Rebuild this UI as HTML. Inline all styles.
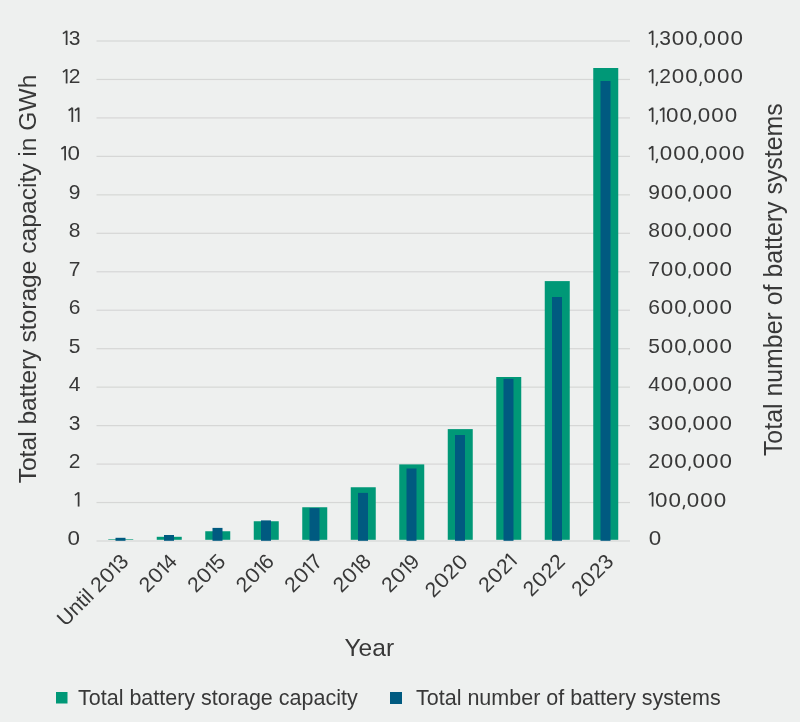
<!DOCTYPE html>
<html><head><meta charset="utf-8"><style>
html,body{margin:0;padding:0;background:#eef0ef;}
svg{display:block;will-change:transform;}
text{font-family:"Liberation Sans", sans-serif;fill:#383838;}
.f{fill:#383838;}
.s{stroke:#383838;fill:none;stroke-linecap:butt;}
.tk{font-size:21px;}
.xl{font-size:21px;}
.tt{font-size:24.6px;}
.rtt{font-size:24.9px;}
.lg{font-size:21.5px;}
</style></head><body>
<svg width="800" height="722" viewBox="0 0 800 722">
<rect width="800" height="722" fill="#eef0ef"/>
<rect x="96.5" y="540.40" width="533.5" height="1.2" fill="#d6d7d6"/>
<rect x="96.5" y="501.94" width="533.5" height="1.2" fill="#d6d7d6"/>
<rect x="96.5" y="463.48" width="533.5" height="1.2" fill="#d6d7d6"/>
<rect x="96.5" y="425.02" width="533.5" height="1.2" fill="#d6d7d6"/>
<rect x="96.5" y="386.55" width="533.5" height="1.2" fill="#d6d7d6"/>
<rect x="96.5" y="348.09" width="533.5" height="1.2" fill="#d6d7d6"/>
<rect x="96.5" y="309.63" width="533.5" height="1.2" fill="#d6d7d6"/>
<rect x="96.5" y="271.17" width="533.5" height="1.2" fill="#d6d7d6"/>
<rect x="96.5" y="232.71" width="533.5" height="1.2" fill="#d6d7d6"/>
<rect x="96.5" y="194.25" width="533.5" height="1.2" fill="#d6d7d6"/>
<rect x="96.5" y="155.78" width="533.5" height="1.2" fill="#d6d7d6"/>
<rect x="96.5" y="117.32" width="533.5" height="1.2" fill="#d6d7d6"/>
<rect x="96.5" y="78.86" width="533.5" height="1.2" fill="#d6d7d6"/>
<rect x="96.5" y="40.40" width="533.5" height="1.2" fill="#d6d7d6"/>
<rect x="108.25" y="539.2" width="25" height="0.60" fill="#009877"/>
<rect x="156.75" y="536.8" width="25" height="3.00" fill="#009877"/>
<rect x="205.25" y="531.25" width="25" height="8.55" fill="#009877"/>
<rect x="253.75" y="521.25" width="25" height="18.55" fill="#009877"/>
<rect x="302.25" y="507.25" width="25" height="32.55" fill="#009877"/>
<rect x="350.75" y="487.25" width="25" height="52.55" fill="#009877"/>
<rect x="399.25" y="464.4" width="25" height="75.40" fill="#009877"/>
<rect x="447.75" y="429.1" width="25" height="110.70" fill="#009877"/>
<rect x="496.25" y="377" width="25" height="162.80" fill="#009877"/>
<rect x="544.75" y="281.1" width="25" height="258.70" fill="#009877"/>
<rect x="593.25" y="68" width="25" height="471.80" fill="#009877"/>
<rect x="115.50" y="537.8" width="10" height="3.00" fill="#005a80"/>
<rect x="164.00" y="535" width="10" height="5.80" fill="#005a80"/>
<rect x="212.50" y="527.9" width="10" height="12.90" fill="#005a80"/>
<rect x="261.00" y="520.4" width="10" height="20.40" fill="#005a80"/>
<rect x="309.50" y="508.1" width="10" height="32.70" fill="#005a80"/>
<rect x="358.00" y="492.9" width="10" height="47.90" fill="#005a80"/>
<rect x="406.50" y="468.5" width="10" height="72.30" fill="#005a80"/>
<rect x="455.00" y="435" width="10" height="105.80" fill="#005a80"/>
<rect x="503.50" y="378.9" width="10" height="161.90" fill="#005a80"/>
<rect x="552.00" y="297" width="10" height="243.80" fill="#005a80"/>
<rect x="600.50" y="81" width="10" height="459.80" fill="#005a80"/>
<text transform="translate(73.75,545.00) scale(1.066,1)" text-anchor="middle" class="tk">0</text>
<rect x="77.73" y="492.24" width="1.75" height="14.30" class="f"/>
<path d="M78.60,492.64 L74.90,495.14" stroke-width="1.60" class="s"/>
<text x="74.50" y="468.08" text-anchor="middle" class="tk">2</text>
<text x="74.50" y="429.62" text-anchor="middle" class="tk">3</text>
<text x="74.50" y="391.15" text-anchor="middle" class="tk">4</text>
<text x="74.50" y="352.69" text-anchor="middle" class="tk">5</text>
<text x="74.50" y="314.23" text-anchor="middle" class="tk">6</text>
<text x="74.50" y="275.77" text-anchor="middle" class="tk">7</text>
<text x="74.50" y="237.31" text-anchor="middle" class="tk">8</text>
<text x="74.50" y="198.85" text-anchor="middle" class="tk">9</text>
<rect x="64.23" y="146.08" width="1.75" height="14.30" class="f"/>
<path d="M65.10,146.48 L61.40,148.98" stroke-width="1.60" class="s"/>
<text transform="translate(73.75,160.38) scale(1.066,1)" text-anchor="middle" class="tk">0</text>
<rect x="71.43" y="107.62" width="1.75" height="14.30" class="f"/>
<path d="M72.30,108.02 L68.60,110.52" stroke-width="1.60" class="s"/>
<rect x="77.73" y="107.62" width="1.75" height="14.30" class="f"/>
<path d="M78.60,108.02 L74.90,110.52" stroke-width="1.60" class="s"/>
<rect x="65.73" y="69.16" width="1.75" height="14.30" class="f"/>
<path d="M66.60,69.56 L62.90,72.06" stroke-width="1.60" class="s"/>
<text x="74.50" y="83.46" text-anchor="middle" class="tk">2</text>
<rect x="65.73" y="30.70" width="1.75" height="14.30" class="f"/>
<path d="M66.60,31.10 L62.90,33.60" stroke-width="1.60" class="s"/>
<text x="74.50" y="45.00" text-anchor="middle" class="tk">3</text>
<text transform="translate(654.95,545.00) scale(1.066,1)" text-anchor="middle" class="tk">0</text>
<rect x="651.73" y="492.24" width="1.75" height="14.30" class="f"/>
<path d="M652.60,492.64 L648.90,495.14" stroke-width="1.60" class="s"/>
<text transform="translate(661.25,506.54) scale(1.066,1)" text-anchor="middle" class="tk">0</text>
<text transform="translate(674.75,506.54) scale(1.066,1)" text-anchor="middle" class="tk">0</text>
<path d="M684.50,504.94 L683.20,509.14" stroke-width="1.60" class="s"/>
<text transform="translate(692.95,506.54) scale(1.066,1)" text-anchor="middle" class="tk">0</text>
<text transform="translate(706.45,506.54) scale(1.066,1)" text-anchor="middle" class="tk">0</text>
<text transform="translate(719.95,506.54) scale(1.066,1)" text-anchor="middle" class="tk">0</text>
<text x="654.20" y="468.08" text-anchor="middle" class="tk">2</text>
<text transform="translate(666.95,468.08) scale(1.066,1)" text-anchor="middle" class="tk">0</text>
<text transform="translate(680.45,468.08) scale(1.066,1)" text-anchor="middle" class="tk">0</text>
<path d="M690.20,466.48 L688.90,470.68" stroke-width="1.60" class="s"/>
<text transform="translate(698.65,468.08) scale(1.066,1)" text-anchor="middle" class="tk">0</text>
<text transform="translate(712.15,468.08) scale(1.066,1)" text-anchor="middle" class="tk">0</text>
<text transform="translate(725.65,468.08) scale(1.066,1)" text-anchor="middle" class="tk">0</text>
<text x="654.20" y="429.62" text-anchor="middle" class="tk">3</text>
<text transform="translate(666.95,429.62) scale(1.066,1)" text-anchor="middle" class="tk">0</text>
<text transform="translate(680.45,429.62) scale(1.066,1)" text-anchor="middle" class="tk">0</text>
<path d="M690.20,428.02 L688.90,432.22" stroke-width="1.60" class="s"/>
<text transform="translate(698.65,429.62) scale(1.066,1)" text-anchor="middle" class="tk">0</text>
<text transform="translate(712.15,429.62) scale(1.066,1)" text-anchor="middle" class="tk">0</text>
<text transform="translate(725.65,429.62) scale(1.066,1)" text-anchor="middle" class="tk">0</text>
<text x="654.20" y="391.15" text-anchor="middle" class="tk">4</text>
<text transform="translate(666.95,391.15) scale(1.066,1)" text-anchor="middle" class="tk">0</text>
<text transform="translate(680.45,391.15) scale(1.066,1)" text-anchor="middle" class="tk">0</text>
<path d="M690.20,389.55 L688.90,393.75" stroke-width="1.60" class="s"/>
<text transform="translate(698.65,391.15) scale(1.066,1)" text-anchor="middle" class="tk">0</text>
<text transform="translate(712.15,391.15) scale(1.066,1)" text-anchor="middle" class="tk">0</text>
<text transform="translate(725.65,391.15) scale(1.066,1)" text-anchor="middle" class="tk">0</text>
<text x="654.20" y="352.69" text-anchor="middle" class="tk">5</text>
<text transform="translate(666.95,352.69) scale(1.066,1)" text-anchor="middle" class="tk">0</text>
<text transform="translate(680.45,352.69) scale(1.066,1)" text-anchor="middle" class="tk">0</text>
<path d="M690.20,351.09 L688.90,355.29" stroke-width="1.60" class="s"/>
<text transform="translate(698.65,352.69) scale(1.066,1)" text-anchor="middle" class="tk">0</text>
<text transform="translate(712.15,352.69) scale(1.066,1)" text-anchor="middle" class="tk">0</text>
<text transform="translate(725.65,352.69) scale(1.066,1)" text-anchor="middle" class="tk">0</text>
<text x="654.20" y="314.23" text-anchor="middle" class="tk">6</text>
<text transform="translate(666.95,314.23) scale(1.066,1)" text-anchor="middle" class="tk">0</text>
<text transform="translate(680.45,314.23) scale(1.066,1)" text-anchor="middle" class="tk">0</text>
<path d="M690.20,312.63 L688.90,316.83" stroke-width="1.60" class="s"/>
<text transform="translate(698.65,314.23) scale(1.066,1)" text-anchor="middle" class="tk">0</text>
<text transform="translate(712.15,314.23) scale(1.066,1)" text-anchor="middle" class="tk">0</text>
<text transform="translate(725.65,314.23) scale(1.066,1)" text-anchor="middle" class="tk">0</text>
<text x="654.20" y="275.77" text-anchor="middle" class="tk">7</text>
<text transform="translate(666.95,275.77) scale(1.066,1)" text-anchor="middle" class="tk">0</text>
<text transform="translate(680.45,275.77) scale(1.066,1)" text-anchor="middle" class="tk">0</text>
<path d="M690.20,274.17 L688.90,278.37" stroke-width="1.60" class="s"/>
<text transform="translate(698.65,275.77) scale(1.066,1)" text-anchor="middle" class="tk">0</text>
<text transform="translate(712.15,275.77) scale(1.066,1)" text-anchor="middle" class="tk">0</text>
<text transform="translate(725.65,275.77) scale(1.066,1)" text-anchor="middle" class="tk">0</text>
<text x="654.20" y="237.31" text-anchor="middle" class="tk">8</text>
<text transform="translate(666.95,237.31) scale(1.066,1)" text-anchor="middle" class="tk">0</text>
<text transform="translate(680.45,237.31) scale(1.066,1)" text-anchor="middle" class="tk">0</text>
<path d="M690.20,235.71 L688.90,239.91" stroke-width="1.60" class="s"/>
<text transform="translate(698.65,237.31) scale(1.066,1)" text-anchor="middle" class="tk">0</text>
<text transform="translate(712.15,237.31) scale(1.066,1)" text-anchor="middle" class="tk">0</text>
<text transform="translate(725.65,237.31) scale(1.066,1)" text-anchor="middle" class="tk">0</text>
<text x="654.20" y="198.85" text-anchor="middle" class="tk">9</text>
<text transform="translate(666.95,198.85) scale(1.066,1)" text-anchor="middle" class="tk">0</text>
<text transform="translate(680.45,198.85) scale(1.066,1)" text-anchor="middle" class="tk">0</text>
<path d="M690.20,197.25 L688.90,201.45" stroke-width="1.60" class="s"/>
<text transform="translate(698.65,198.85) scale(1.066,1)" text-anchor="middle" class="tk">0</text>
<text transform="translate(712.15,198.85) scale(1.066,1)" text-anchor="middle" class="tk">0</text>
<text transform="translate(725.65,198.85) scale(1.066,1)" text-anchor="middle" class="tk">0</text>
<rect x="651.73" y="146.08" width="1.75" height="14.30" class="f"/>
<path d="M652.60,146.48 L648.90,148.98" stroke-width="1.60" class="s"/>
<path d="M657.50,158.78 L656.20,162.98" stroke-width="1.60" class="s"/>
<text transform="translate(665.95,160.38) scale(1.066,1)" text-anchor="middle" class="tk">0</text>
<text transform="translate(679.45,160.38) scale(1.066,1)" text-anchor="middle" class="tk">0</text>
<text transform="translate(692.95,160.38) scale(1.066,1)" text-anchor="middle" class="tk">0</text>
<path d="M702.70,158.78 L701.40,162.98" stroke-width="1.60" class="s"/>
<text transform="translate(711.15,160.38) scale(1.066,1)" text-anchor="middle" class="tk">0</text>
<text transform="translate(724.65,160.38) scale(1.066,1)" text-anchor="middle" class="tk">0</text>
<text transform="translate(738.15,160.38) scale(1.066,1)" text-anchor="middle" class="tk">0</text>
<rect x="651.73" y="107.62" width="1.75" height="14.30" class="f"/>
<path d="M652.60,108.02 L648.90,110.52" stroke-width="1.60" class="s"/>
<path d="M657.50,120.32 L656.20,124.52" stroke-width="1.60" class="s"/>
<rect x="662.73" y="107.62" width="1.75" height="14.30" class="f"/>
<path d="M663.60,108.02 L659.90,110.52" stroke-width="1.60" class="s"/>
<text transform="translate(672.25,121.92) scale(1.066,1)" text-anchor="middle" class="tk">0</text>
<text transform="translate(685.75,121.92) scale(1.066,1)" text-anchor="middle" class="tk">0</text>
<path d="M695.50,120.32 L694.20,124.52" stroke-width="1.60" class="s"/>
<text transform="translate(703.95,121.92) scale(1.066,1)" text-anchor="middle" class="tk">0</text>
<text transform="translate(717.45,121.92) scale(1.066,1)" text-anchor="middle" class="tk">0</text>
<text transform="translate(730.95,121.92) scale(1.066,1)" text-anchor="middle" class="tk">0</text>
<rect x="651.73" y="69.16" width="1.75" height="14.30" class="f"/>
<path d="M652.60,69.56 L648.90,72.06" stroke-width="1.60" class="s"/>
<path d="M657.50,81.86 L656.20,86.06" stroke-width="1.60" class="s"/>
<text x="665.20" y="83.46" text-anchor="middle" class="tk">2</text>
<text transform="translate(677.95,83.46) scale(1.066,1)" text-anchor="middle" class="tk">0</text>
<text transform="translate(691.45,83.46) scale(1.066,1)" text-anchor="middle" class="tk">0</text>
<path d="M701.20,81.86 L699.90,86.06" stroke-width="1.60" class="s"/>
<text transform="translate(709.65,83.46) scale(1.066,1)" text-anchor="middle" class="tk">0</text>
<text transform="translate(723.15,83.46) scale(1.066,1)" text-anchor="middle" class="tk">0</text>
<text transform="translate(736.65,83.46) scale(1.066,1)" text-anchor="middle" class="tk">0</text>
<rect x="651.73" y="30.70" width="1.75" height="14.30" class="f"/>
<path d="M652.60,31.10 L648.90,33.60" stroke-width="1.60" class="s"/>
<path d="M657.50,43.40 L656.20,47.60" stroke-width="1.60" class="s"/>
<text x="665.20" y="45.00" text-anchor="middle" class="tk">3</text>
<text transform="translate(677.95,45.00) scale(1.066,1)" text-anchor="middle" class="tk">0</text>
<text transform="translate(691.45,45.00) scale(1.066,1)" text-anchor="middle" class="tk">0</text>
<path d="M701.20,43.40 L699.90,47.60" stroke-width="1.60" class="s"/>
<text transform="translate(709.65,45.00) scale(1.066,1)" text-anchor="middle" class="tk">0</text>
<text transform="translate(723.15,45.00) scale(1.066,1)" text-anchor="middle" class="tk">0</text>
<text transform="translate(736.65,45.00) scale(1.066,1)" text-anchor="middle" class="tk">0</text>
<g transform="translate(129.95,562.6) rotate(-45)">
<text x="-37.80" y="0.00" text-anchor="middle" class="xl">2</text>
<text transform="translate(-25.05,0.00) scale(1.066,1)" text-anchor="middle" class="xl">0</text>
<rect x="-14.77" y="-14.30" width="1.75" height="14.30" class="f"/>
<path d="M-13.90,-13.90 L-17.60,-11.40" stroke-width="1.60" class="s"/>
<text x="-6.00" y="0.00" text-anchor="middle" class="xl">3</text>
<text x="-49.30" y="0" text-anchor="end" class="xl">Until</text>
</g>
<g transform="translate(178.45,562.6) rotate(-45)">
<text x="-37.80" y="0.00" text-anchor="middle" class="xl">2</text>
<text transform="translate(-25.05,0.00) scale(1.066,1)" text-anchor="middle" class="xl">0</text>
<rect x="-14.77" y="-14.30" width="1.75" height="14.30" class="f"/>
<path d="M-13.90,-13.90 L-17.60,-11.40" stroke-width="1.60" class="s"/>
<text x="-6.00" y="0.00" text-anchor="middle" class="xl">4</text>
</g>
<g transform="translate(226.95,562.6) rotate(-45)">
<text x="-37.80" y="0.00" text-anchor="middle" class="xl">2</text>
<text transform="translate(-25.05,0.00) scale(1.066,1)" text-anchor="middle" class="xl">0</text>
<rect x="-14.77" y="-14.30" width="1.75" height="14.30" class="f"/>
<path d="M-13.90,-13.90 L-17.60,-11.40" stroke-width="1.60" class="s"/>
<text x="-6.00" y="0.00" text-anchor="middle" class="xl">5</text>
</g>
<g transform="translate(275.45,562.6) rotate(-45)">
<text x="-37.80" y="0.00" text-anchor="middle" class="xl">2</text>
<text transform="translate(-25.05,0.00) scale(1.066,1)" text-anchor="middle" class="xl">0</text>
<rect x="-14.77" y="-14.30" width="1.75" height="14.30" class="f"/>
<path d="M-13.90,-13.90 L-17.60,-11.40" stroke-width="1.60" class="s"/>
<text x="-6.00" y="0.00" text-anchor="middle" class="xl">6</text>
</g>
<g transform="translate(323.95,562.6) rotate(-45)">
<text x="-37.80" y="0.00" text-anchor="middle" class="xl">2</text>
<text transform="translate(-25.05,0.00) scale(1.066,1)" text-anchor="middle" class="xl">0</text>
<rect x="-14.77" y="-14.30" width="1.75" height="14.30" class="f"/>
<path d="M-13.90,-13.90 L-17.60,-11.40" stroke-width="1.60" class="s"/>
<text x="-6.00" y="0.00" text-anchor="middle" class="xl">7</text>
</g>
<g transform="translate(372.45,562.6) rotate(-45)">
<text x="-37.80" y="0.00" text-anchor="middle" class="xl">2</text>
<text transform="translate(-25.05,0.00) scale(1.066,1)" text-anchor="middle" class="xl">0</text>
<rect x="-14.77" y="-14.30" width="1.75" height="14.30" class="f"/>
<path d="M-13.90,-13.90 L-17.60,-11.40" stroke-width="1.60" class="s"/>
<text x="-6.00" y="0.00" text-anchor="middle" class="xl">8</text>
</g>
<g transform="translate(420.95,562.6) rotate(-45)">
<text x="-37.80" y="0.00" text-anchor="middle" class="xl">2</text>
<text transform="translate(-25.05,0.00) scale(1.066,1)" text-anchor="middle" class="xl">0</text>
<rect x="-14.77" y="-14.30" width="1.75" height="14.30" class="f"/>
<path d="M-13.90,-13.90 L-17.60,-11.40" stroke-width="1.60" class="s"/>
<text x="-6.00" y="0.00" text-anchor="middle" class="xl">9</text>
</g>
<g transform="translate(469.45,562.6) rotate(-45)">
<text x="-45.00" y="0.00" text-anchor="middle" class="xl">2</text>
<text transform="translate(-32.25,0.00) scale(1.066,1)" text-anchor="middle" class="xl">0</text>
<text x="-19.50" y="0.00" text-anchor="middle" class="xl">2</text>
<text transform="translate(-6.75,0.00) scale(1.066,1)" text-anchor="middle" class="xl">0</text>
</g>
<g transform="translate(517.95,562.6) rotate(-45)">
<text x="-37.80" y="0.00" text-anchor="middle" class="xl">2</text>
<text transform="translate(-25.05,0.00) scale(1.066,1)" text-anchor="middle" class="xl">0</text>
<text x="-12.30" y="0.00" text-anchor="middle" class="xl">2</text>
<rect x="-2.77" y="-14.30" width="1.75" height="14.30" class="f"/>
<path d="M-1.90,-13.90 L-5.60,-11.40" stroke-width="1.60" class="s"/>
</g>
<g transform="translate(566.45,562.6) rotate(-45)">
<text x="-43.50" y="0.00" text-anchor="middle" class="xl">2</text>
<text transform="translate(-30.75,0.00) scale(1.066,1)" text-anchor="middle" class="xl">0</text>
<text x="-18.00" y="0.00" text-anchor="middle" class="xl">2</text>
<text x="-6.00" y="0.00" text-anchor="middle" class="xl">2</text>
</g>
<g transform="translate(614.95,562.6) rotate(-45)">
<text x="-43.50" y="0.00" text-anchor="middle" class="xl">2</text>
<text transform="translate(-30.75,0.00) scale(1.066,1)" text-anchor="middle" class="xl">0</text>
<text x="-18.00" y="0.00" text-anchor="middle" class="xl">2</text>
<text x="-6.00" y="0.00" text-anchor="middle" class="xl">3</text>
</g>
<text transform="translate(36.0,279.0) rotate(-90)" text-anchor="middle" class="tt">Total battery storage capacity in GWh</text>
<text transform="translate(782.1,279.7) rotate(-90)" text-anchor="middle" class="rtt">Total number of battery systems</text>
<text x="369.25" y="656" text-anchor="middle" class="tt">Year</text>
<rect x="56" y="692" width="11.5" height="11.5" fill="#009877"/>
<text x="78" y="704.6" class="lg">Total battery storage capacity</text>
<rect x="390" y="692" width="12" height="12" fill="#005a80"/>
<text x="416" y="704.6" class="lg">Total number of battery systems</text>
</svg>
</body></html>
